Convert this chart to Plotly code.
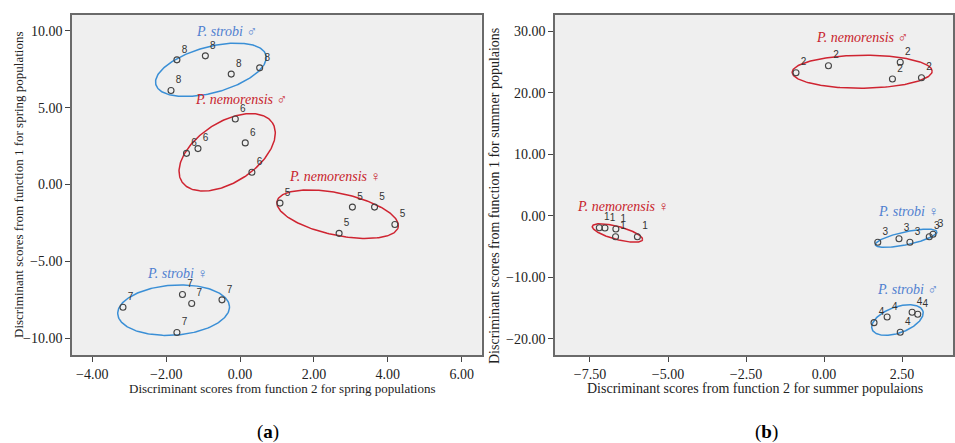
import numpy as np
import plotly.graph_objects as go

# ---------------- data ----------------
# Spring populations (panel a)
g8_x = [-1.71, -0.94, -0.24, 0.53, -1.87]
g8_y = [8.12, 8.38, 7.19, 7.60, 6.12]
g6_x = [-0.13, -1.45, -1.14, 0.14, 0.32]
g6_y = [4.27, 2.03, 2.34, 2.71, 0.80]
g5_x = [1.08, 3.04, 3.64, 4.19, 2.68]
g5_y = [-1.21, -1.47, -1.47, -2.60, -3.18]
g7_x = [-3.17, -1.56, -1.31, -0.49, -1.71]
g7_y = [-7.99, -7.16, -7.75, -7.51, -9.63]

# Summer populations (panel b)
g2_x = [-0.90, 0.14, 2.44, 2.19, 3.12]
g2_y = [23.23, 24.37, 24.92, 22.21, 22.42]
g1_x = [-7.20, -7.02, -6.67, -6.68, -5.98]
g1_y = [-1.93, -1.97, -2.14, -3.39, -3.39]
g3_x = [1.72, 2.40, 2.75, 3.37, 3.49]
g3_y = [-4.30, -3.72, -4.30, -3.39, -3.00]
g4_x = [1.60, 2.02, 2.82, 3.00, 2.44]
g4_y = [-17.35, -16.43, -15.67, -15.99, -18.91]

spring_ticks_x = [-4, -2, 0, 2, 4, 6]
spring_ticks_y = [10, 5, 0, -5, -10]
summer_ticks_x = [-7.5, -5, -2.5, 0, 2.5]
summer_ticks_y = [30, 20, 10, 0, -10, -20]

RED = "#cf2431"
BLUE = "#3a8fd6"
RED_T = "#c8232c"
BLUE_T = "#4f7fcf"

W, H = 955, 443
XA_RANGE = [-4.55, 6.54]
YA_RANGE = [-11.10, 11.04]
XB_RANGE = [-8.62, 4.13]
YB_RANGE = [-22.6, 32.6]
XA_DOM = [72 / W, 481.7 / W]
XB_DOM = [555 / W, 953 / W]
Y_DOM = [1 - 355 / H, 1 - 15 / H]


def scale(rng, dom, size):
    return (dom[1] - dom[0]) * size / (rng[1] - rng[0])


sxa = scale(XA_RANGE, XA_DOM, W)
sya = scale(YA_RANGE, Y_DOM, H)
sxb = scale(XB_RANGE, XB_DOM, W)
syb = scale(YB_RANGE, Y_DOM, H)


def ellipse(cx, cy, a, b, ang, sx, sy):
    t = np.linspace(0, 2 * np.pi, 200)
    th = np.deg2rad(ang)
    dx = a * np.cos(t) * np.cos(th) - b * np.sin(t) * np.sin(th)
    dy = a * np.cos(t) * np.sin(th) + b * np.sin(t) * np.cos(th)
    return cx + dx / sx, cy + dy / sy


fig = go.Figure()

# (group x, group y, label, ellipse center x, center y, a, b, angle, color, axis)
groups = [
    (g8_x, g8_y, "8", -0.79, 7.47, 57, 23, 15, BLUE, "a"),
    (g6_x, g6_y, "6", -0.35, 2.10, 54, 30, 33, RED, "a"),
    (g5_x, g5_y, "5", 2.64, -1.93, 62, 21, -12, RED, "a"),
    (g7_x, g7_y, "7", -1.80, -8.18, 56, 25, 4, BLUE, "a"),
    (g2_x, g2_y, "2", 1.22, 23.39, 70, 16.5, 0.5, RED, "b"),
    (g1_x, g1_y, "1", -6.62, -2.79, 26, 6.5, -15, RED, "b"),
    (g3_x, g3_y, "3", 2.63, -3.65, 31.5, 6.5, 12, BLUE, "b"),
    (g4_x, g4_y, "4", 2.35, -16.92, 27, 13, 20, BLUE, "b"),
]

for gx, gy, lab, cx, cy, a, b, ang, col, ax in groups:
    if ax == "a":
        xs, ys = "x", "y"
        ex, ey = ellipse(cx, cy, a, b, ang, sxa, sya)
    else:
        xs, ys = "x2", "y2"
        ex, ey = ellipse(cx, cy, a, b, ang, sxb, syb)
    fig.add_trace(go.Scatter(x=ex, y=ey, mode="lines", xaxis=xs, yaxis=ys,
                             line=dict(color=col, width=1.5), hoverinfo="skip",
                             showlegend=False))
    fig.add_trace(go.Scatter(x=gx, y=gy, mode="markers+text", xaxis=xs, yaxis=ys,
                             text=[lab] * len(gx), textposition="top right",
                             textfont=dict(family="Liberation Sans", size=10, color="#333"),
                             marker=dict(symbol="circle-open", size=6,
                                         color="#444", line=dict(width=1.1, color="#444")),
                             showlegend=False))

# group name labels (x, y, text, color, axis)
name_labels = [
    (-0.38, 9.98, "P. strobi ♂", BLUE_T, "a"),
    (0.03, 5.55, "P. nemorensis ♂", RED_T, "a"),
    (2.57, 0.50, "P. nemorensis ♀", RED_T, "a"),
    (-1.69, -5.78, "P. strobi ♀", BLUE_T, "a"),
    (1.21, 28.98, "P. nemorensis ♂", RED_T, "b"),
    (-6.45, 1.48, "P. nemorensis ♀", RED_T, "b"),
    (2.71, 0.67, "P. strobi ♀", BLUE_T, "b"),
    (2.68, -11.93, "P. strobi ♂", BLUE_T, "b"),
]
anns = []
for x, y, t, c, ax in name_labels:
    anns.append(dict(x=x, y=y, xref="x" if ax == "a" else "x2",
                     yref="y" if ax == "a" else "y2",
                     xanchor="center", yanchor="middle",
                     text="<i>" + t + "</i>", showarrow=False,
                     font=dict(family="Liberation Serif", size=14, color=c)))

SERIF = "Liberation Serif"


def paper_text(px, py, text, size, color="#222", angle=0):
    return dict(x=px / W, y=1 - py / H, xref="paper", yref="paper", showarrow=False,
                xanchor="center", yanchor="middle", textangle=angle, text=text,
                font=dict(family=SERIF, size=size, color=color))


anns += [
    paper_text(282, 388, "Discriminant scores from function 2 for spring populations", 13),
    paper_text(755, 388, "Discriminant scores from function 2 for summer populaions", 14),
    paper_text(18, 185, "Discriminant scores from function 1 for spring populations", 13, angle=-90),
    paper_text(494, 196, "Discriminant scores from function 1 for summer populaions", 14, angle=-90),
    paper_text(268, 432, "(<b>a</b>)", 19, "#000"),
    paper_text(766, 432, "(<b>b</b>)", 19, "#000"),
]

axis_common = dict(showgrid=False, zeroline=False, showline=True, mirror=True,
                   linecolor="#6a6a6a", linewidth=1.5, ticks="outside", ticklen=5,
                   tickcolor="#444", tickformat=".2f",
                   tickfont=dict(family=SERIF, size=14, color="#222"))

fig.update_layout(
    width=W, height=H, margin=dict(l=0, r=0, t=0, b=0),
    paper_bgcolor="white", plot_bgcolor="#efefef",
    xaxis=dict(domain=XA_DOM, range=XA_RANGE, tickvals=spring_ticks_x, anchor="y", **axis_common),
    yaxis=dict(domain=Y_DOM, range=YA_RANGE, tickvals=spring_ticks_y, anchor="x", **axis_common),
    xaxis2=dict(domain=XB_DOM, range=XB_RANGE, tickvals=summer_ticks_x, anchor="y2", **axis_common),
    yaxis2=dict(domain=Y_DOM, range=YB_RANGE, tickvals=summer_ticks_y, anchor="x2", **axis_common),
    annotations=anns,
)

fig.write_html("out.html")
